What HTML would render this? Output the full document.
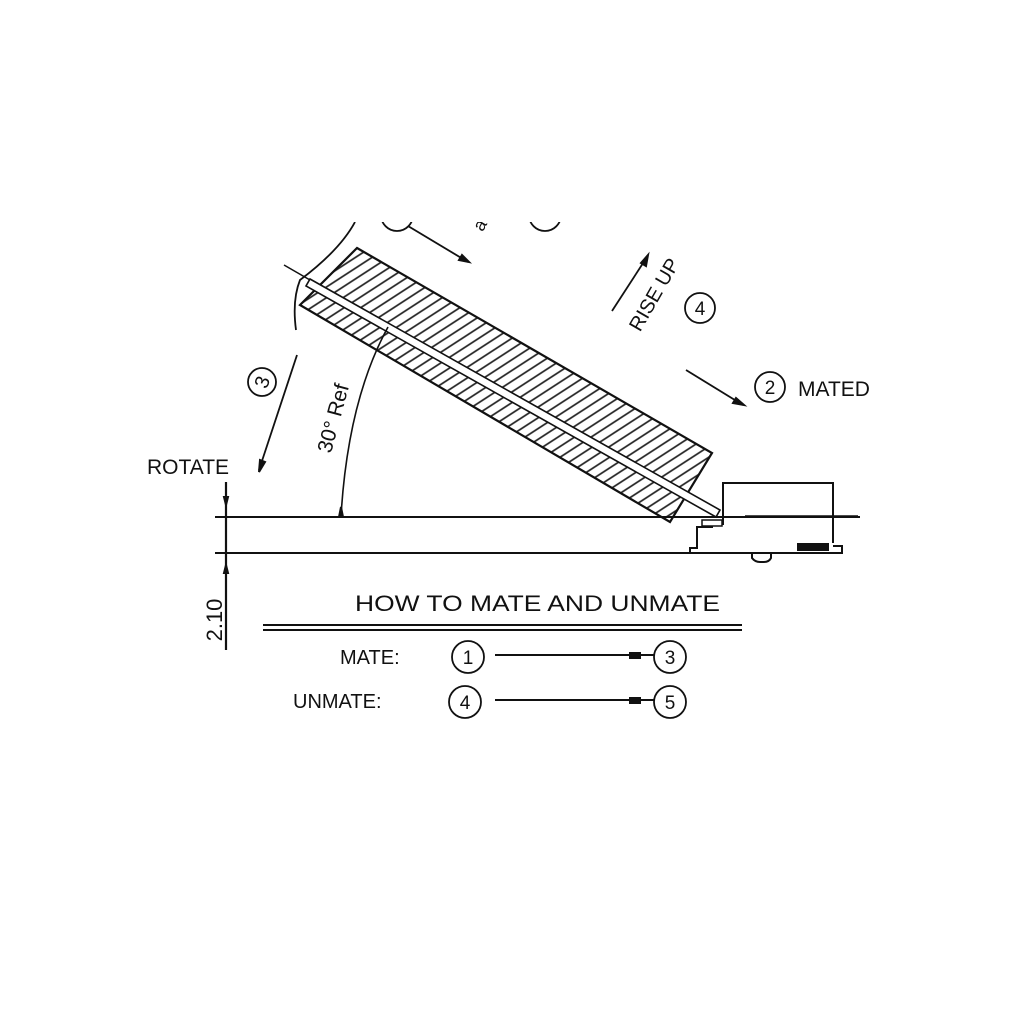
<!DOCTYPE html>
<html><head><style>
html,body{margin:0;padding:0;background:#fff;}
svg{display:block;}
text{font-family:"Liberation Sans",sans-serif;fill:#111;}
</style></head><body>
<svg width="1024" height="1024" viewBox="0 0 1024 1024" xmlns="http://www.w3.org/2000/svg">
<defs>
<pattern id="hp" width="9" height="9" patternUnits="userSpaceOnUse" patternTransform="rotate(-33)">
<rect width="9" height="9" fill="#fff"/>
<line x1="0" y1="4.5" x2="9" y2="4.5" stroke="#222" stroke-width="1.7"/>
</pattern>
<clipPath id="top"><rect x="0" y="222" width="1024" height="802"/></clipPath>
</defs>
<g clip-path="url(#top)" stroke="#111" fill="none" stroke-width="2">
<polygon points="357,248 712,453 670,522 300,305" fill="url(#hp)" stroke-width="2.2"/>
<!-- strip -->
<polygon points="310,279 720,510 716,517 306,286" fill="#fff" stroke-width="1.6"/>
<line x1="284" y1="265" x2="310" y2="280" stroke-width="1.5"/>
<!-- left arc -->
<path d="M355,222 Q340,250 300,280 Q292,300 296,330" stroke-width="1.8"/>
<!-- horizontal lines -->
<line x1="215" y1="517" x2="860" y2="517"/>
<line x1="215" y1="553" x2="690" y2="553"/>
<line x1="226" y1="482" x2="226" y2="650" stroke-width="2.2"/>
<path d="M226,505 l-2,-8 h4 z M226,565 l-2,8 h4 z" fill="#111"/>
<!-- 30 ref arc -->
<path d="M341,516 Q348,400 388,327" stroke-width="1.6"/>
<path d="M341,507 l-2,10 h4 z" fill="#111"/>
<!-- rotate arrow -->
<line x1="297" y1="355" x2="259" y2="470" stroke-width="1.8"/>
<path d="M259,472 l1,-12 l5,2 z" fill="#111"/>
<circle cx="262" cy="382" r="14" stroke-width="1.8"/>
<!-- top arrows -->
<circle cx="397" cy="215" r="16" stroke-width="1.8"/>
<line x1="408" y1="226" x2="468" y2="262" stroke-width="1.8"/>
<path d="M469,262 l-10,-2 l3,-5 z" fill="#111"/>
<circle cx="545" cy="215" r="16" stroke-width="1.8"/>
<!-- rise up -->
<line x1="612" y1="311" x2="647" y2="257" stroke-width="1.8"/>
<path d="M648,255 l-2,11 l-5,-3 z" fill="#111"/>
<circle cx="700" cy="308" r="15" stroke-width="1.8"/>
<line x1="686" y1="370" x2="743" y2="405" stroke-width="1.8"/>
<path d="M744,405 l-11,-2 l3,-5 z" fill="#111"/>
<circle cx="770" cy="387" r="15" stroke-width="1.8"/>
<!-- connector -->
<path d="M723,525 V483 H833 V543" stroke-width="2"/>
<path d="M713,527 H697 V548 H690 V553 H842 V546 H833" stroke-width="2"/>
<line x1="745" y1="516" x2="858" y2="516" stroke-width="1.5"/>
<rect x="798" y="544" width="30" height="6" fill="#111"/>
<path d="M752,553 v5 q3,4 8,4 h4 q5,0 7,-4 v-5" stroke-width="2"/>
<path d="M702,520 h20 v6 h-20 z" stroke-width="1.5"/>
<!-- table -->
<line x1="263" y1="625" x2="742" y2="625" stroke-width="2"/>
<line x1="263" y1="630" x2="742" y2="630" stroke-width="2"/>
<circle cx="468" cy="657" r="16" stroke-width="1.8"/>
<circle cx="670" cy="657" r="16" stroke-width="1.8"/>
<line x1="495" y1="655" x2="654" y2="655" stroke-width="2"/>
<rect x="630" y="653" width="10" height="5" fill="#111"/>
<circle cx="465" cy="702" r="16" stroke-width="1.8"/>
<circle cx="670" cy="702" r="16" stroke-width="1.8"/>
<line x1="495" y1="700" x2="654" y2="700" stroke-width="2"/>
<rect x="630" y="698" width="10" height="5" fill="#111"/>
</g>
<g clip-path="url(#top)">
<text x="147" y="474" font-size="21">ROTATE</text>
<text transform="translate(262,382) rotate(-70)" font-size="20" text-anchor="middle" dy="7">3</text>
<text transform="translate(340,420) rotate(-75)" font-size="21" text-anchor="middle">30° Ref</text>
<text transform="translate(660,298) rotate(-60)" font-size="20" text-anchor="middle">RISE UP</text>
<text x="700" y="315" font-size="19" text-anchor="middle">4</text>
<text x="770" y="394" font-size="19" text-anchor="middle">2</text>
<text x="798" y="396" font-size="21">MATED</text>
<text transform="translate(485,228) rotate(-60)" font-size="18" text-anchor="middle">a</text>
<text transform="translate(222,620) rotate(-90)" font-size="22" text-anchor="middle">2.10</text>
<text x="355" y="611" font-size="22" textLength="365" lengthAdjust="spacingAndGlyphs">HOW TO MATE AND UNMATE</text>
<text x="340" y="664" font-size="20">MATE:</text>
<text x="293" y="708" font-size="20">UNMATE:</text>
<text x="468" y="664" font-size="19" text-anchor="middle">1</text>
<text x="670" y="664" font-size="19" text-anchor="middle">3</text>
<text x="465" y="709" font-size="19" text-anchor="middle">4</text>
<text x="670" y="709" font-size="19" text-anchor="middle">5</text>
</g>
</svg>
</body></html>
